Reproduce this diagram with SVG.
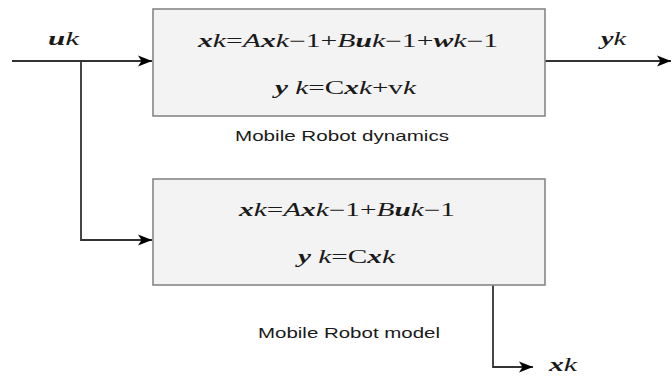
<svg xmlns="http://www.w3.org/2000/svg" width="672" height="376" viewBox="0 0 672 376">
  <style>
    .box { fill: #f3f3f3; stroke: #868686; stroke-width: 1.6; }
    .wire { fill: none; stroke: #333333; stroke-width: 1.8; }
    .math { font-family: "Liberation Serif", "Times New Roman", serif; font-size: 18px; fill: #1a1a1a; }
    .b { font-weight: bold; font-style: italic; }
    .i { font-style: italic; }
    .cap { font-family: "Liberation Sans", Arial, sans-serif; font-size: 14px; fill: #1a1a1a; }
  </style>
  <defs>
    <marker id="arrow" markerUnits="userSpaceOnUse" markerWidth="15" markerHeight="12" viewBox="0 0 15 12" refX="14" refY="6" orient="auto">
      <path d="M0,0.5 L14,6 L0,11.5 L3.5,6 Z" fill="#000000"/>
    </marker>
  </defs>

  <!-- connectors -->
  <g id="connectors">
    <path class="wire" d="M12,61 H152" marker-end="url(#arrow)"/>
    <path class="wire" d="M81,61 V240 H152" marker-end="url(#arrow)"/>
    <path class="wire" d="M545,61 H671" stroke="#777777" marker-end="url(#arrow)"/>
    <path class="wire" d="M493,285 V367 H533" marker-end="url(#arrow)"/>
  </g>

  <!-- signal labels -->
  <g id="label-u">
    <text class="math" x="48" y="45" textLength="31" lengthAdjust="spacingAndGlyphs"><tspan class="b">u</tspan><tspan class="i">k</tspan></text>
  </g>
  <g id="label-y">
    <text class="math" x="601" y="45" textLength="25" lengthAdjust="spacingAndGlyphs"><tspan class="b">y</tspan><tspan class="i">k</tspan></text>
  </g>
  <g id="label-x">
    <text class="math" x="549" y="371" textLength="28" lengthAdjust="spacingAndGlyphs"><tspan class="b">x</tspan><tspan class="i">k</tspan></text>
  </g>

  <!-- plant: mobile robot dynamics -->
  <g id="dynamics">
    <rect class="box" x="153" y="9" width="392" height="107"/>
    <text class="math" x="198" y="47" textLength="300" lengthAdjust="spacingAndGlyphs"><tspan class="b">x</tspan><tspan class="i">k</tspan>=<tspan class="i">A</tspan><tspan class="b">x</tspan><tspan class="i">k</tspan>−1+<tspan class="i">B</tspan><tspan class="b">u</tspan><tspan class="i">k</tspan>−1+<tspan class="b">w</tspan><tspan class="i">k</tspan>−1</text>
    <text class="math" x="275" y="94" textLength="141" lengthAdjust="spacingAndGlyphs"><tspan class="b">y</tspan> <tspan class="i">k</tspan>=C<tspan class="b">x</tspan><tspan class="i">k</tspan>+v<tspan class="i">k</tspan></text>
    <text class="cap" x="235" y="141" textLength="214" lengthAdjust="spacingAndGlyphs">Mobile Robot dynamics</text>
  </g>

  <!-- estimator: mobile robot model -->
  <g id="model">
    <rect class="box" x="153" y="179" width="392" height="106"/>
    <text class="math" x="239" y="216" textLength="216" lengthAdjust="spacingAndGlyphs"><tspan class="b">x</tspan><tspan class="i">k</tspan>=<tspan class="i">A</tspan><tspan class="b">x</tspan><tspan class="i">k</tspan>−1+<tspan class="i">B</tspan><tspan class="b">u</tspan><tspan class="i">k</tspan>−1</text>
    <text class="math" x="298" y="263" textLength="97" lengthAdjust="spacingAndGlyphs"><tspan class="b">y</tspan> <tspan class="i">k</tspan>=C<tspan class="b">x</tspan><tspan class="i">k</tspan></text>
    <text class="cap" x="258" y="338" textLength="182" lengthAdjust="spacingAndGlyphs">Mobile Robot model</text>
  </g>
</svg>
